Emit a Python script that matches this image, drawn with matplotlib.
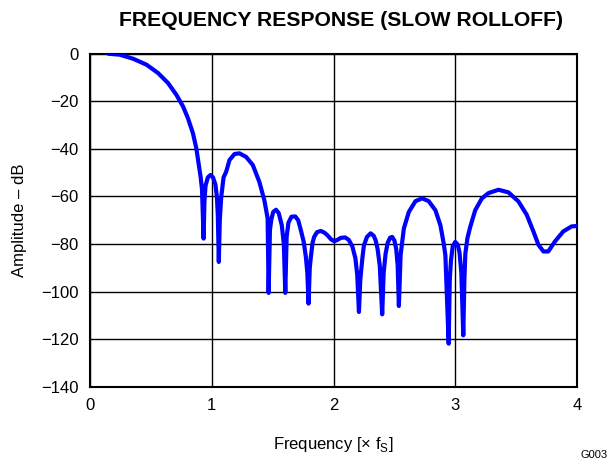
import matplotlib
matplotlib.use("Agg")
import matplotlib.pyplot as plt

plt.rcParams['font.family'] = ['Liberation Sans', 'DejaVu Sans']

# values
freq = [0.150, 0.245, 0.354, 0.464, 0.559, 0.641, 0.709, 0.764, 0.804, 0.845,
        0.873, 0.894, 0.908, 0.920, 0.933,
        0.940, 0.949, 0.968, 0.990, 1.010, 1.030, 1.042, 1.050, 1.058,
        1.066, 1.078, 1.097, 1.118, 1.146, 1.187, 1.227, 1.282, 1.337, 1.391, 1.432,
        1.459, 1.467,
        1.478, 1.490, 1.505, 1.528, 1.550, 1.575, 1.592, 1.604,
        1.615, 1.630, 1.655, 1.686, 1.710, 1.732, 1.755, 1.773, 1.785, 1.795,
        1.805, 1.814, 1.828, 1.841, 1.865, 1.896, 1.925, 1.950, 1.980, 2.005, 2.030,
        2.060, 2.095, 2.125, 2.155, 2.180, 2.195, 2.209,
        2.220, 2.237, 2.250, 2.275, 2.305, 2.330, 2.346, 2.362, 2.380, 2.400,
        2.412, 2.428, 2.445, 2.465, 2.482, 2.500, 2.515, 2.527, 2.537,
        2.551, 2.578, 2.619, 2.673, 2.728, 2.782, 2.837, 2.878, 2.905, 2.919, 2.946,
        2.955, 2.965, 2.979, 3.000, 3.020, 3.035, 3.050, 3.066,
        3.075, 3.083, 3.100, 3.123, 3.164, 3.219, 3.273, 3.355, 3.437, 3.519, 3.587,
        3.642, 3.683, 3.724, 3.764, 3.819, 3.887, 3.955, 4.000]
amp_db = [-0.1, -0.5, -2.2, -4.7, -8.2, -12.4, -17.3, -22.2, -27.1, -33.4,
          -39.7, -46.7, -51.6, -57.0, -77.7,
          -62.0, -55.5, -52.0, -51.0, -52.0, -55.0, -60.0, -68.0, -87.5,
          -70.0, -60.2, -52.0, -49.7, -44.7, -42.2, -41.9, -43.4, -46.8, -53.9, -61.6,
          -69.2, -100.5,
          -74.0, -69.5, -66.5, -65.6, -67.0, -72.0, -80.0, -100.5,
          -77.0, -71.0, -68.5, -68.4, -70.0, -74.2, -79.0, -85.4, -92.0, -105.0,
          -90.0, -85.4, -79.5, -77.0, -75.0, -74.5, -75.2, -76.3, -78.0, -78.8, -78.3,
          -77.4, -77.2, -78.2, -81.0, -86.0, -93.0, -108.5,
          -95.0, -86.0, -80.5, -77.0, -75.5, -76.5, -78.4, -82.0, -89.0, -109.5,
          -92.0, -84.0, -79.5, -77.3, -77.0, -78.5, -82.0, -89.0, -106.0,
          -84.7, -73.4, -66.5, -62.0, -60.8, -62.0, -65.8, -72.1, -79.7, -84.7, -121.8,
          -95.0, -86.8, -81.0, -79.1, -80.2, -83.5, -92.0, -118.3,
          -95.0, -84.0, -77.5, -72.8, -65.8, -60.8, -58.6, -57.2, -58.3, -62.1, -67.7,
          -74.7, -80.3, -83.1, -83.1, -78.9, -74.7, -72.6, -72.4]

x_ticks = [0, 1, 2, 3, 4]
y_ticks = [0, -20, -40, -60, -80, -100, -120, -140]

fig = plt.figure(figsize=(6.11, 4.65), dpi=100)
ax = fig.add_axes([90 / 611, 1 - 387 / 465, 487 / 611, 333.5 / 465])

ax.plot(freq, amp_db, color='#0000ff', lw=3.0, solid_joinstyle='round',
        solid_capstyle='round', zorder=3)

ax.set_xlim(0, 4)
ax.set_ylim(-140, 0)
ax.set_xticks(x_ticks)
ax.set_yticks(y_ticks)
ax.tick_params(length=0, labelsize=12, pad=8)
ax.grid(True, color='black', lw=1.0)
for s in ax.spines.values():
    s.set_linewidth(1.5)

ax.set_xlabel('Frequency [× f$_{\\mathregular{S}}$]', fontsize=12, labelpad=16)
ax.set_ylabel('Amplitude – dB', fontsize=12, labelpad=10)
fig.text(341 / 611, 1 - 20 / 465, 'FREQUENCY RESPONSE (SLOW ROLLOFF)',
         fontsize=15.2, fontweight='bold', ha='center', va='center')

fig.text(594 / 611, 1 - 455 / 465, 'G003', fontsize=8, ha='center', va='center')

fig.savefig('out.png', dpi=100)
